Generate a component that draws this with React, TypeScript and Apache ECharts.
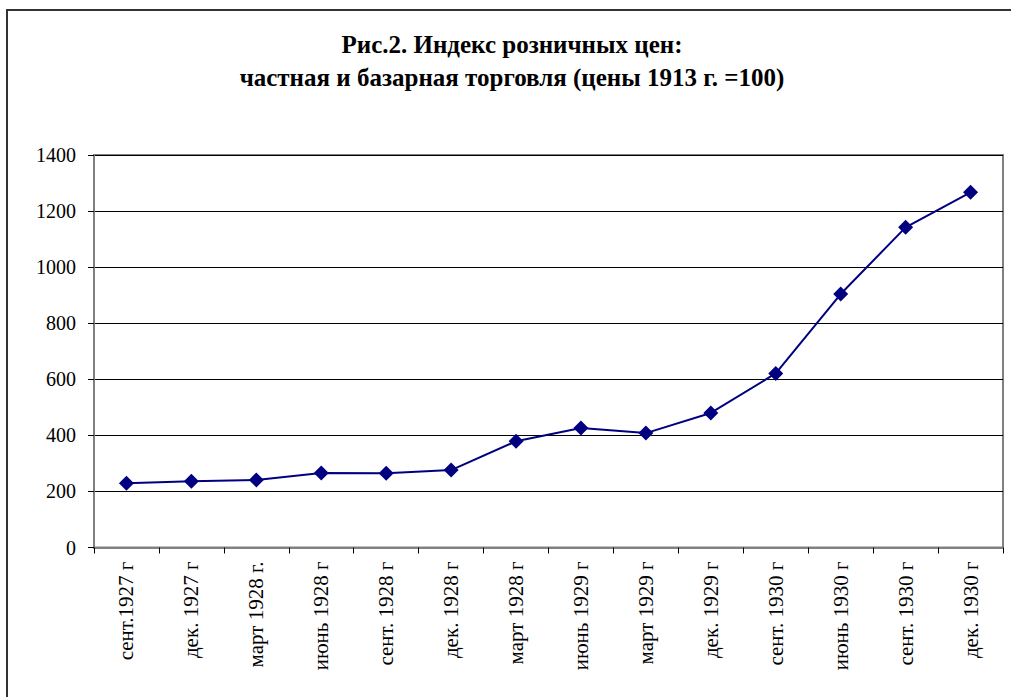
import React, { useEffect, useRef } from "react";
import * as echarts from "echarts";

const categories = [
  "сент.1927 г",
  "дек. 1927 г",
  "март 1928 г.",
  "июнь 1928 г",
  "сент. 1928 г",
  "дек. 1928 г",
  "март 1928 г",
  "июнь 1929 г",
  "март 1929 г",
  "дек. 1929 г",
  "сент. 1930 г",
  "июнь 1930 г",
  "сент. 1930 г",
  "дек. 1930 г",
];
const priceIndex = [229, 236, 241, 266, 265, 276, 379, 426, 408, 480, 621, 904, 1142, 1267];
const yTicks = { min: 0, max: 1400, interval: 200 };
const titleText = "Рис.2. Индекс розничных цен:\nчастная и базарная торговля (цены 1913 г. =100)";

const SERIF = "'Liberation Serif', 'Times New Roman', serif";

export default function App() {
  const ref = useRef<HTMLDivElement>(null);
  useEffect(() => {
    if (!ref.current) return;
    const chart = echarts.init(ref.current, undefined, { renderer: "svg" });
    chart.setOption({
      animation: false,
      backgroundColor: "#ffffff",
      title: {
        text: titleText,
        left: 512,
        top: 28,
        padding: 0,
        textAlign: "center",
        textStyle: {
          fontFamily: SERIF,
          fontWeight: "bold",
          fontSize: 25,
          lineHeight: 33,
          color: "#000",
        },
      },
      graphic: [
        {
          type: "rect",
          shape: { x: 7, y: 10, width: 1100, height: 800 },
          style: { fill: "none", stroke: "#333333", lineWidth: 2 },
          silent: true,
        },
      ],
      grid: {
        left: 94,
        right: 8,
        top: 155,
        bottom: 149.5,
        show: true,
        borderColor: "#808080",
        borderWidth: 2,
        containLabel: false,
      },
      xAxis: {
        type: "category",
        data: categories,
        boundaryGap: true,
        axisLine: { show: true, lineStyle: { color: "#808080", width: 2 } },
        axisTick: { show: true, length: 6, lineStyle: { color: "#000", width: 1 } },
        axisLabel: {
          rotate: 90,
          interval: 0,
          margin: 14,
          fontFamily: SERIF,
          fontSize: 21,
          color: "#000",
        },
        splitLine: { show: false },
      },
      yAxis: {
        type: "value",
        min: yTicks.min,
        max: yTicks.max,
        interval: yTicks.interval,
        axisLine: { show: true, lineStyle: { color: "#808080", width: 2 } },
        axisTick: { show: true, length: 6, lineStyle: { color: "#000", width: 1 } },
        axisLabel: {
          margin: 18,
          fontFamily: SERIF,
          fontSize: 20,
          color: "#000",
          formatter: (v: number) => String(v),
        },
        splitLine: { show: true, lineStyle: { color: "#000", width: 1 } },
      },
      series: [
        {
          type: "line",
          data: priceIndex,
          symbol: "diamond",
          symbolSize: 15,
          itemStyle: { color: "#000080" },
          lineStyle: { color: "#000080", width: 2 },
        },
      ],
    });
    return () => chart.dispose();
  }, []);
  return (
    <div
      ref={ref}
      style={{ position: "fixed", left: 0, top: 0, width: 1011, height: 697 }}
    />
  );
}
